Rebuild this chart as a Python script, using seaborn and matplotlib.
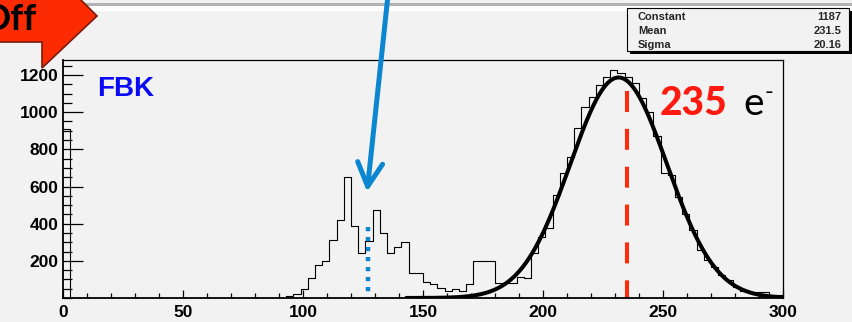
import numpy as np
import pandas as pd
import matplotlib
matplotlib.use("Agg")
import matplotlib.pyplot as plt
import seaborn as sns
from matplotlib.patches import Polygon, Rectangle
from matplotlib.ticker import MultipleLocator

# Charge spectrum: left edge of each filled 3-unit bin and its entries
bin_left = [0, 93, 96, 99, 102, 105, 108, 111, 114, 117, 120, 123, 126, 129,
            132, 135, 138, 141, 144, 147, 150, 153, 156, 159, 162, 165, 168,
            171, 174, 177, 180, 183, 186, 189, 192, 195, 198, 201, 204, 207,
            210, 213, 216, 219, 222, 225, 228, 231, 234, 237, 240, 243, 246,
            249, 252, 255, 258, 261, 264, 267, 270, 273, 276, 279, 282, 285,
            288, 291, 294, 297]
bin_count = [910, 10, 20, 50, 107, 180, 200, 310, 420, 650, 385, 243, 305, 472,
             351, 243, 276, 300, 136, 136, 84, 74, 55, 38, 47, 38, 77,
             200, 200, 200, 79, 79, 79, 115, 106, 240, 330, 375, 554, 671,
             760, 913, 1026, 1083, 1146, 1188, 1225, 1210, 1190, 1159, 1075, 1003, 872,
             671, 660, 545, 450, 366, 258, 204, 165, 124, 97, 58, 40, 34,
             31, 31, 16, 16]
bin_width = 3

# Gaussian fit results (stat box)
stat_names = ["Constant", "Mean", "Sigma"]
stat_values = ["1187", "231.5", "20.16"]
fit_constant = 1187
fit_mean = 231.5
fit_sigma = 20.16
fit_from, fit_to = 143, 300

x_ticks = [0, 50, 100, 150, 200, 250, 300]
y_ticks = [200, 400, 600, 800, 1000, 1200]

peak_value = 235          # photo-electron peak position
pedestal_value = 127      # low-charge peak position

W, H, DPI = 852, 322, 100
BG = "#f2f2f2"
BLUE = "#0b86d0"
RED = "#ff2a08"

sns.set_theme(style="ticks")
plt.rcParams["font.family"] = ["Liberation Sans", "DejaVu Sans"]

fig = plt.figure(figsize=(W / DPI, H / DPI), dpi=DPI, facecolor=BG)


def fx(px):
    return px / W


def fy(py):
    return 1 - py / H


# window strip along the top edge
fig.add_artist(Rectangle((0, fy(11)), 1, 5 / H, transform=fig.transFigure,
                         facecolor="white", edgecolor="none", zorder=0))
fig.add_artist(Rectangle((0, fy(6)), 1, 3 / H, transform=fig.transFigure,
                         facecolor="#b2b2b2", edgecolor="none", zorder=0))

ax = fig.add_axes([fx(63), fy(298), (783 - 63) / W, (298 - 60) / H])
ax.set_facecolor(BG)

edges = list(range(0, 300 + bin_width, bin_width))
hist_df = pd.DataFrame({"charge": np.array(bin_left) + bin_width / 2,
                        "entries": bin_count})
sns.histplot(data=hist_df, x="charge", weights="entries", bins=edges,
             element="step", fill=False, color="black", linewidth=0.8, ax=ax)

xf = np.linspace(fit_from, fit_to, 500)
yf = fit_constant * np.exp(-0.5 * ((xf - fit_mean) / fit_sigma) ** 2)
sns.lineplot(x=xf, y=yf, color="black", linewidth=2.9, ax=ax)

ax.set_xlim(0, 300)
ax.set_ylim(0, 1281)
ax.set_xlabel("")
ax.set_ylabel("")
ax.set_xticks(x_ticks)
ax.set_yticks(y_ticks)
ax.xaxis.set_minor_locator(MultipleLocator(10))
ax.yaxis.set_minor_locator(MultipleLocator(50))
ax.tick_params(axis="both", which="both", direction="in", top=False, right=False,
               color="black", width=0.9)
ax.tick_params(axis="y", which="major", length=14.4, pad=3.5)
ax.tick_params(axis="y", which="minor", length=6.5)
ax.tick_params(axis="x", which="major", length=5.8, pad=5)
ax.tick_params(axis="x", which="minor", length=3.4)
for lab in ax.get_xticklabels() + ax.get_yticklabels():
    lab.set_fontsize(12.5)
    lab.set_fontweight("bold")
    lab.set_color("black")
for side in ["left", "bottom"]:
    ax.spines[side].set_linewidth(1.3)
for side in ["top", "right"]:
    ax.spines[side].set_linewidth(0.9)
for sp in ax.spines.values():
    sp.set_color("black")

# peak markers
ax.plot([peak_value, peak_value], [1114, 0], color=RED, linewidth=2.9,
        linestyle=(0, (5.2, 4.2)), solid_capstyle="butt", dash_capstyle="butt")
ax.plot([pedestal_value, pedestal_value], [382, 8], color=BLUE, linewidth=3.2,
        linestyle=(0, (0.95, 1.3)), dash_capstyle="butt")
ax.annotate("", xy=(126.7, 572), xytext=(135.2, 1604), xycoords="data",
            textcoords="data", annotation_clip=False,
            arrowprops=dict(arrowstyle="->,head_length=0.85,head_width=0.45",
                            color=BLUE, lw=3.6, mutation_scale=20,
                            shrinkA=0, shrinkB=0, clip_on=False))

fig.text(fx(97), fy(96), "FBK", color="#0a0af5", fontsize=20,
         fontweight="bold", va="baseline", ha="left")
fig.text(fx(660), fy(115), str(peak_value), color="#fe1a0e", fontsize=28,
         fontweight="black", family=["Lato", "DejaVu Sans"], va="baseline", ha="left")
fig.text(fx(743), fy(115), "e", color="black", fontsize=28,
         family=["Lato", "DejaVu Sans"], va="baseline", ha="left")
fig.text(fx(765), fy(99), "-", color="black", fontsize=17,
         family=["Lato", "DejaVu Sans"], va="baseline", ha="left")

# fit statistics box with drop shadow
fig.add_artist(Rectangle((fx(630), fy(54)), (852 - 630) / W, (54 - 11) / H,
                         transform=fig.transFigure, facecolor="black",
                         edgecolor="none", zorder=3))
fig.add_artist(Rectangle((fx(627), fy(51)), (849 - 627) / W, (51 - 8) / H,
                         transform=fig.transFigure, facecolor=BG,
                         edgecolor="black", linewidth=0.8, zorder=4))
for i, (name, val) in enumerate(zip(stat_names, stat_values)):
    base = 20 + 14 * i
    fig.text(fx(638), fy(base), name, fontsize=8, fontweight="bold",
             va="baseline", ha="left", zorder=5)
    fig.text(fx(841), fy(base), val, fontsize=8, fontweight="bold",
             va="baseline", ha="right", zorder=5)

# "Off" callout arrow in the corner
callout = [(-5, -10), (42, -10), (42, -39), (97, 16), (42, 68), (42, 42), (-5, 42)]
fig.add_artist(Polygon([(fx(px), fy(py)) for px, py in callout], closed=True,
                       transform=fig.transFigure, facecolor="#fd2b02",
                       edgecolor="#7a1a0c", linewidth=1.2, zorder=6))
fig.text(fx(-18), fy(30), "Off", color="black", fontsize=26, fontweight="bold",
         family=["Lato", "DejaVu Sans"], va="baseline", ha="left", zorder=7)

fig.savefig("out.png", dpi=DPI, facecolor=BG)
